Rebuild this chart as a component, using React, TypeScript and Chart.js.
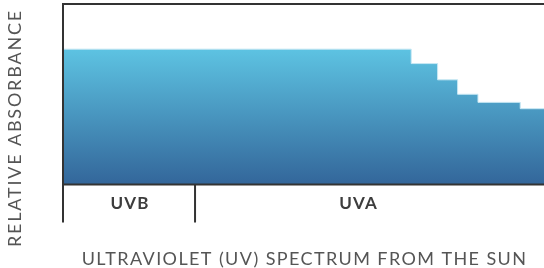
import React, { useEffect, useRef } from 'react';
import { Chart, registerables } from 'chart.js';

Chart.register(...registerables);

const wavelengths = [280, 372.3, 379.3, 384.6, 390, 401.2, 407.5];
const absorbance = [75, 67, 58, 50, 45.5, 42, 42];
const bandLabels = ['UVB', 'UVA'];
const bandEdges = [280, 315, 401.2];
const xTitle = 'ULTRAVIOLET (UV) SPECTRUM FROM THE SUN';
const yTitle = 'RELATIVE ABSORBANCE';

const FONT = 'Lato, "Open Sans", sans-serif';

const decorPlugin = {
  id: 'uvDecor',
  afterDraw(chart: any) {
    const { ctx, chartArea } = chart;
    const xs = chart.scales.x;
    const { left, right, top, bottom } = chartArea;
    const tickBottom = bottom + 38;
    ctx.save();
    ctx.strokeStyle = '#333333';
    ctx.lineWidth = 2;
    ctx.beginPath();
    ctx.moveTo(left, top);
    ctx.lineTo(right, top);
    ctx.moveTo(left, top - 1);
    ctx.lineTo(left, tickBottom);
    ctx.moveTo(left, bottom);
    ctx.lineTo(right, bottom);
    const div = xs.getPixelForValue(bandEdges[1]);
    ctx.moveTo(div, bottom);
    ctx.lineTo(div, tickBottom);
    ctx.stroke();

    ctx.fillStyle = '#3d3d3d';
    ctx.font = `bold 17px ${FONT}`;
    ctx.textAlign = 'center';
    ctx.textBaseline = 'middle';
    (ctx as any).letterSpacing = '1.2px';
    for (let i = 0; i < bandLabels.length; i++) {
      const a = xs.getPixelForValue(bandEdges[i]);
      const b = xs.getPixelForValue(bandEdges[i + 1]);
      ctx.fillText(bandLabels[i], (a + b) / 2 + 1, bottom + 19);
    }

    ctx.fillStyle = '#555555';
    ctx.font = `18px ${FONT}`;
    (ctx as any).letterSpacing = '1.4px';
    ctx.fillText(xTitle, (left + right) / 2 + 1, 259);
    (ctx as any).letterSpacing = '1.8px';
    ctx.translate(15.5, 129);
    ctx.rotate(-Math.PI / 2);
    ctx.fillText(yTitle, 1, 0);
    ctx.restore();
  },
};

export default function App() {
  const ref = useRef<HTMLCanvasElement | null>(null);
  useEffect(() => {
    document.body.style.margin = '0';
    const canvas = ref.current!;
    const chart = new Chart(canvas, {
      type: 'line',
      data: {
        datasets: [
          {
            data: wavelengths.map((w, i) => ({ x: w, y: absorbance[i] })),
            stepped: true,
            fill: 'start',
            pointRadius: 0,
            borderColor: 'rgba(200,232,244,1)',
            borderWidth: 1,
            backgroundColor: (c: any) => {
              const area = c.chart.chartArea;
              if (!area) return '#4a90c0';
              const ys = c.chart.scales.y;
              const g = c.chart.ctx.createLinearGradient(0, ys.getPixelForValue(absorbance[0]), 0, area.bottom);
              g.addColorStop(0, '#5DC3E2');
              g.addColorStop(1, '#33669A');
              return g;
            },
          },
        ],
      },
      options: {
        animation: false,
        responsive: false,
        devicePixelRatio: 1,
        layout: { padding: { left: 63, top: 4, right: 0, bottom: 83.5 } },
        plugins: { legend: { display: false }, tooltip: { enabled: false } },
        scales: {
          x: { type: 'linear', display: false, min: wavelengths[0], max: wavelengths[wavelengths.length - 1] },
          y: { display: false, min: 0, max: 100 },
        },
      },
      plugins: [decorPlugin],
    });
    return () => chart.destroy();
  }, []);
  return (
    <div style={{ position: 'absolute', left: 0, top: 0, width: 544, height: 268 }}>
      <canvas ref={ref} width={544} height={268} />
    </div>
  );
}
